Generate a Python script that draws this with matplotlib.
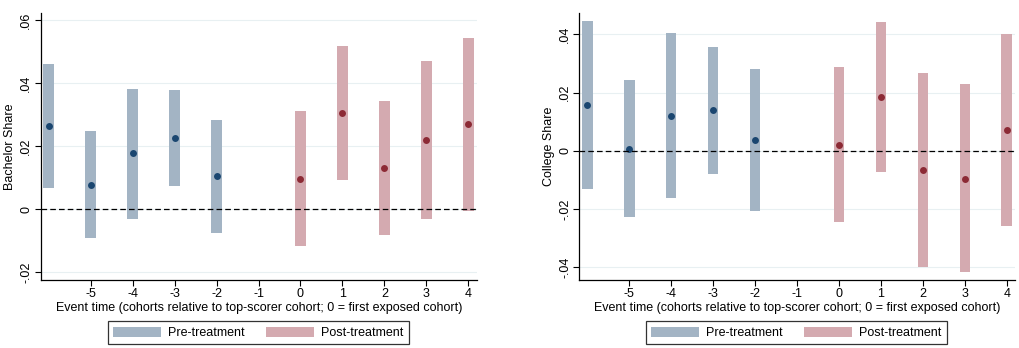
import matplotlib.pyplot as plt
from matplotlib.patches import Patch
from matplotlib.ticker import FuncFormatter

plt.rcParams['font.family'] = ['Liberation Sans', 'DejaVu Sans']
plt.rcParams['font.size'] = 9
plt.rcParams['axes.unicode_minus'] = False

event = [-6, -5, -4, -3, -2, 0, 1, 2, 3, 4]
pre = [True, True, True, True, True, False, False, False, False, False]

bach_est = [0.0266, 0.0079, 0.0178, 0.0226, 0.0105, 0.0098, 0.0307, 0.0132, 0.0220, 0.0270]
bach_lo = [0.0069, -0.0090, -0.0029, 0.0074, -0.0074, -0.0116, 0.0093, -0.0081, -0.0032, -0.0004]
bach_hi = [0.0461, 0.0249, 0.0383, 0.0379, 0.0284, 0.0312, 0.0520, 0.0344, 0.0472, 0.0543]

coll_est = [0.0157, 0.0008, 0.0121, 0.0140, 0.0038, 0.0022, 0.0185, -0.0066, -0.0095, 0.0073]
coll_lo = [-0.0130, -0.0226, -0.0163, -0.0078, -0.0205, -0.0245, -0.0071, -0.0397, -0.0417, -0.0257]
coll_hi = [0.0446, 0.0242, 0.0405, 0.0357, 0.0280, 0.0289, 0.0441, 0.0266, 0.0228, 0.0402]

xticks = [-5, -4, -3, -2, -1, 0, 1, 2, 3, 4]
xlab = "Event time (cohorts relative to top-scorer cohort; 0 = first exposed cohort)"

bar_pre, bar_post = '#a3b4c4', '#d4aab0'
dot_pre, dot_post = '#1a4670', '#8c2a35'


def fmt(v, pos):
    s = '%g' % round(v, 4)
    if s.startswith('0.'):
        s = s[1:]
    elif s.startswith('-0.'):
        s = '-' + s[2:]
    return s


def panel(ax, est, lo, hi, ylabel, yticks, ylim):
    for x, e, l, h, p in zip(event, est, lo, hi, pre):
        ax.bar(x, h - l, bottom=l, width=0.25, color=bar_pre if p else bar_post,
               linewidth=0, zorder=2)
        ax.plot(x, e, 'o', color=dot_pre if p else dot_post, markersize=5,
                markeredgewidth=0, zorder=3)
    ax.axhline(0, color='black', linewidth=0.9, dashes=(4.5, 2.5), zorder=4)
    ax.set_xlim(-6.19, 4.2)
    ax.set_ylim(*ylim)
    ax.set_yticks(yticks)
    ax.yaxis.set_major_formatter(FuncFormatter(fmt))
    ax.set_xticks(xticks)
    ax.grid(axis='y', color='#e8f0f2', linewidth=0.8, zorder=0)
    ax.set_axisbelow(True)
    for s in ['top', 'right']:
        ax.spines[s].set_visible(False)
    for s in ['left', 'bottom']:
        ax.spines[s].set_linewidth(0.9)
    ax.tick_params(axis='y', labelrotation=90, length=4, width=0.8, pad=2)
    ax.tick_params(axis='x', length=4, width=0.8, pad=2)
    for t in ax.get_yticklabels():
        t.set_va('center')
    ax.set_ylabel(ylabel, labelpad=3)
    ax.set_xlabel(xlab, labelpad=1)


fig = plt.figure(figsize=(10.2, 3.48), dpi=100)
ax1 = fig.add_axes([0.0399, 0.1954, 0.4275, 0.767])
ax2 = fig.add_axes([0.568, 0.1954, 0.4272, 0.767])

panel(ax1, bach_est, bach_lo, bach_hi, 'Bachelor Share',
      [-0.02, 0, 0.02, 0.04, 0.06], (-0.0224, 0.0623))
panel(ax2, coll_est, coll_lo, coll_hi, 'College Share',
      [-0.04, -0.02, 0, 0.02, 0.04], (-0.0443, 0.0473))

handles = [Patch(facecolor=bar_pre, label='Pre-treatment'),
           Patch(facecolor=bar_post, label='Post-treatment')]
for cx in [0.2533, 0.781]:
    leg = fig.legend(handles=handles, loc='center', bbox_to_anchor=(cx, 0.044),
                     ncol=2, frameon=True, fancybox=False, handlelength=3.8,
                     handleheight=0.85, handletextpad=0.6, columnspacing=1.7,
                     borderpad=0.45, fontsize=9)
    leg.get_frame().set_edgecolor('black')
    leg.get_frame().set_linewidth(0.9)

fig.savefig('out.png', dpi=100)
